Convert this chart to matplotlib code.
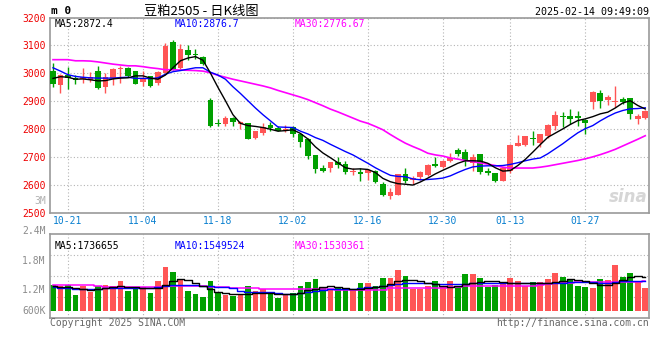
import numpy as np
import matplotlib.pyplot as plt

plt.rcParams['font.family'] = ['DejaVu Sans Mono']

# Свечи (80 торговых дней: 10-17 ... 02-14)
opens = [3007, 2958, 2995, 2983, 2979, 2976, 3007, 2951, 2983, 3014,
         3018, 3007, 2969, 2989, 2965, 3002, 3114, 3020, 3082, 3069,
         3060, 2905, 2824, 2820, 2840, 2818, 2821, 2769, 2787, 2815,
         2804, 2798, 2807, 2783, 2765, 2708, 2661, 2661, 2682, 2675,
         2646, 2648, 2643, 2652, 2605, 2561, 2565, 2639, 2617, 2629,
         2637, 2675, 2664, 2686, 2724, 2720, 2680, 2711, 2650, 2643,
         2615, 2649, 2740, 2744, 2769, 2750, 2774, 2813, 2849, 2846,
         2846, 2833, 2896, 2929, 2906, 2899, 2907, 2911, 2837, 2840]
highs = [3036, 2998, 3021, 2994, 3018, 3004, 3025, 3000, 3018, 3027,
         3021, 3010, 3007, 2992, 3010, 3110, 3118, 3104, 3100, 3086,
         3062, 2911, 2835, 2846, 2845, 2831, 2824, 2795, 2821, 2826,
         2813, 2814, 2813, 2787, 2768, 2708, 2673, 2682, 2700, 2686,
         2661, 2661, 2657, 2655, 2610, 2588, 2640, 2660, 2631, 2650,
         2676, 2700, 2690, 2715, 2732, 2729, 2710, 2713, 2661, 2645,
         2661, 2748, 2781, 2775, 2792, 2783, 2819, 2867, 2861, 2873,
         2864, 2836, 2938, 2942, 2924, 2954, 2914, 2913, 2855, 2869]
lows = [2950, 2930, 2944, 2962, 2966, 2970, 2943, 2930, 2958, 2966,
        2986, 2961, 2955, 2950, 2958, 3001, 3012, 3017, 3048, 3052,
        3031, 2807, 2810, 2813, 2811, 2802, 2764, 2765, 2781, 2795,
        2792, 2789, 2771, 2736, 2694, 2643, 2646, 2646, 2662, 2640,
        2637, 2614, 2619, 2607, 2560, 2551, 2563, 2608, 2605, 2617,
        2633, 2664, 2662, 2682, 2705, 2669, 2652, 2640, 2635, 2610,
        2613, 2644, 2739, 2739, 2745, 2736, 2769, 2798, 2807, 2817,
        2810, 2783, 2873, 2875, 2885, 2879, 2890, 2837, 2819, 2837]
closes = [2962, 2995, 2983, 2976, 2987, 2986, 2948, 2986, 3014, 3018,
          2989, 2962, 2983, 2954, 3005, 3097, 3014, 3089, 3064, 3066,
          3033, 2810, 2818, 2839, 2825, 2827, 2765, 2793, 2807, 2804,
          2795, 2801, 2783, 2754, 2704, 2658, 2652, 2682, 2673, 2646,
          2650, 2640, 2655, 2611, 2564, 2575, 2638, 2613, 2626, 2646,
          2673, 2668, 2687, 2698, 2713, 2688, 2702, 2646, 2643, 2614,
          2661, 2744, 2752, 2775, 2764, 2783, 2815, 2850, 2843, 2837,
          2840, 2821, 2933, 2900, 2914, 2901, 2899, 2855, 2846, 2867]

# Скользящие средние цены
ma5 = [2982, 2988, 2986, 2979, 2980, 2977, 2973, 2974, 2980, 2983,
       2984, 2991, 2991, 2983, 2979, 2994, 3020, 3045, 3055, 3060,
       3047, 3001, 2950, 2902, 2852, 2821, 2813, 2810, 2806, 2800,
       2793, 2795, 2798, 2785, 2765, 2737, 2715, 2698, 2680, 2662,
       2657, 2658, 2656, 2645, 2624, 2612, 2605, 2603, 2600, 2611,
       2625, 2640, 2653, 2665, 2678, 2687, 2687, 2686, 2678, 2662,
       2650, 2652, 2670, 2692, 2718, 2745, 2771, 2786, 2801, 2817,
       2831, 2837, 2845, 2855, 2861, 2876, 2894, 2902, 2885, 2872.4]
ma10 = [3020, 3008, 2995, 2989, 2986, 2984, 2983, 2983, 2983, 2985,
        2986, 2982, 2982, 2981, 2984, 2997, 3006, 3010, 3015, 3020,
        3020, 3004, 2994, 2979, 2952, 2928, 2902, 2876, 2852, 2830,
        2808, 2807, 2806, 2793, 2783, 2770, 2760, 2746, 2733, 2720,
        2708, 2693, 2678, 2662, 2648, 2635, 2631, 2630, 2622, 2619,
        2620, 2622, 2625, 2633, 2645, 2656, 2665, 2668, 2669, 2669,
        2670, 2674, 2680, 2687, 2693, 2697, 2712, 2730, 2748, 2768,
        2787, 2802, 2813, 2830, 2845, 2858, 2867, 2873, 2874, 2876.7]
ma30 = [3049, 3049, 3049, 3045, 3045, 3044, 3041, 3037, 3033, 3030,
        3027, 3027, 3024, 3020, 3017, 3013, 3013, 3012, 3011, 3010,
        3008, 3002, 2993, 2986, 2979, 2973, 2967, 2961, 2955, 2948,
        2939, 2931, 2923, 2915, 2906, 2895, 2884, 2872, 2862, 2851,
        2840, 2829, 2821, 2810, 2798, 2781, 2765, 2750, 2738, 2727,
        2714, 2708, 2704, 2697, 2693, 2688, 2684, 2679, 2675, 2670,
        2664, 2661, 2661, 2661, 2661, 2664, 2668, 2673, 2678, 2683,
        2688, 2694, 2701, 2709, 2718, 2728, 2740, 2752, 2764, 2776.67]

# Объём, тыс. лотов, и его средние
vol_k = [1321, 1269, 1321, 806, 1269, 960, 1286, 1321, 1269, 1526,
         1012, 1149, 1235, 909, 1526, 2247, 1989, 1578, 1012, 858,
         720, 1526, 978, 806, 755, 806, 1269, 1012, 1132, 892,
         669, 806, 892, 1269, 1475, 1629, 1149, 1098, 1201, 1098,
         1098, 1441, 1441, 1269, 1681, 1681, 2092, 1784, 1098, 1098,
         1269, 1526, 1235, 1526, 1201, 1887, 1887, 1681, 1235, 1303,
         1406, 1681, 1526, 1269, 1475, 1475, 1629, 1955, 1732, 1578,
         1269, 1218, 1166, 1629, 1578, 2350, 1732, 1938, 1475, 1166]
vol_ma5_k = [1252, 1235, 1200, 1166, 1132, 1063, 1132, 1183, 1235, 1269,
             1235, 1200, 1166, 1149, 1183, 1303, 1526, 1612, 1578, 1441,
             1269, 1132, 978, 892, 858, 858, 858, 892, 926, 926,
             875, 840, 840, 926, 1063, 1132, 1200, 1269, 1218, 1166,
             1115, 1115, 1166, 1218, 1269, 1389, 1526, 1595, 1578, 1526,
             1441, 1389, 1269, 1218, 1269, 1355, 1441, 1475, 1509, 1544,
             1492, 1441, 1406, 1406, 1406, 1406, 1423, 1475, 1544, 1612,
             1578, 1509, 1406, 1338, 1321, 1423, 1561, 1715, 1766, 1737]
vol_ma10_k = [1218, 1183, 1149, 1115, 1115, 1132, 1132, 1149, 1166, 1183,
              1183, 1166, 1149, 1166, 1200, 1269, 1321, 1338, 1338, 1303,
              1269, 1252, 1235, 1218, 1166, 1029, 978, 943, 943, 943,
              892, 875, 840, 892, 960, 1029, 1063, 1098, 1098, 1098,
              1115, 1183, 1218, 1235, 1286, 1321, 1372, 1406, 1406, 1406,
              1406, 1389, 1389, 1372, 1372, 1389, 1406, 1423, 1423, 1441,
              1441, 1441, 1441, 1441, 1423, 1406, 1406, 1406, 1441, 1475,
              1492, 1492, 1458, 1423, 1423, 1492, 1526, 1544, 1544, 1550]
vol_ma30_k = [1338, 1338, 1338, 1338, 1338, 1303, 1269, 1235, 1235, 1235,
              1235, 1235, 1235, 1235, 1235, 1252, 1269, 1269, 1269, 1269,
              1252, 1235, 1218, 1200, 1149, 1149, 1149, 1149, 1132, 1098,
              1098, 1098, 1098, 1098, 1098, 1098, 1098, 1098, 1063, 1080,
              1080, 1080, 1080, 1080, 1080, 1149, 1149, 1149, 1149, 1149,
              1149, 1166, 1183, 1200, 1235, 1252, 1252, 1252, 1252, 1269,
              1269, 1269, 1269, 1269, 1286, 1338, 1389, 1406, 1423, 1441,
              1458, 1475, 1492, 1458, 1458, 1475, 1475, 1475, 1475, 1530]

date_labels = ['10-21', '11-04', '11-18', '12-02', '12-16', '12-30', '01-13', '01-27']
date_idx = [2, 12, 22, 32, 42, 52, 61, 71]
price_ticks = [2500, 2600, 2700, 2800, 2900, 3000, 3100, 3200]
vol_labels = ['3M', '2.4M', '1.8M', '1.2M', '600K']

RED = '#ff5555'
GREEN = '#00a000'
GRID = '#b4b4b4'
BORDER = '#9a9a9a'

W, H = 660, 360


def box(l, t, r, b):
    # пиксели -> доли фигуры
    return [l / W, 1 - b / H, (r - l) / W, (b - t) / H]


o = np.array(opens, float)
c = np.array(closes, float)
x = np.arange(len(c))
colors = np.where(c >= o, RED, GREEN)

fig = plt.figure(figsize=(6.6, 3.6), dpi=100)
ax = fig.add_axes(box(50, 17.5, 649, 213))
axv = fig.add_axes(box(50, 234.3, 649, 317.7))

# ===== Свечной график =====
ax.set_axisbelow(True)
ax.vlines(x, lows, highs, colors=colors, lw=1, zorder=2)
ax.bar(x, np.maximum(np.abs(c - o), 3), bottom=np.minimum(o, c), width=0.76,
       color=colors, linewidth=0, zorder=3)
ax.plot(x, ma30, color='#ff00ff', lw=1.2, zorder=4)
ax.plot(x, ma10, color='#0000ff', lw=1, zorder=4)
ax.plot(x, ma5, color='black', lw=1, zorder=4)

ax.set_xlim(-0.4, 79.5)
ax.set_ylim(2500, 3200)
ax.set_xticks(date_idx, date_labels)
ax.set_yticks(price_ticks)
ax.tick_params(axis='x', length=0, pad=2.5, labelcolor='#0a80d0', labelsize=7)
ax.tick_params(axis='y', length=0, pad=3, labelcolor='#ee0000', labelsize=7)
ax.grid(True, color=GRID, linestyle=(0, (1, 2)), lw=0.8)
for s in ax.spines.values():
    s.set_color(BORDER)
    s.set_linewidth(1.2)

ax.text(0.008, 0.965, 'MA5:2872.4', transform=ax.transAxes, color='black', fontsize=7, va='center')
ax.text(0.208, 0.965, 'MA10:2876.7', transform=ax.transAxes, color='#0000ff', fontsize=7, va='center')
ax.text(0.408, 0.965, 'MA30:2776.67', transform=ax.transAxes, color='#ff00ff', fontsize=7, va='center')
ax.text(0.998, 0.035, 'sina', transform=ax.transAxes, color='#d6d6d6', fontsize=12,
        fontweight='bold', style='italic', ha='right', va='bottom', family='DejaVu Sans')

# ===== Объём =====
vol = np.array(vol_k) * 1000
axv.set_axisbelow(True)
axv.bar(x, vol, width=0.76, color=colors, linewidth=0, zorder=2)
axv.plot(x, np.array(vol_ma30_k) * 1000, drawstyle='steps-mid', color='#ff00ff', lw=1.1, zorder=3)
axv.plot(x, np.array(vol_ma10_k) * 1000, drawstyle='steps-mid', color='#0000ff', lw=1, zorder=3)
axv.plot(x, np.array(vol_ma5_k) * 1000, drawstyle='steps-mid', color='black', lw=1, zorder=3)

vlo, vhi = -0.36e6, 3.93e6
axv.set_xlim(-0.4, 79.5)
axv.set_ylim(vlo, vhi)
axv.set_xticks(date_idx)
axv.set_yticks(np.linspace(vlo, vhi, 5)[1:-1])
axv.tick_params(length=0, labelbottom=False, labelleft=False)
axv.grid(True, color=GRID, linestyle=(0, (1, 2)), lw=0.8)
for s in axv.spines.values():
    s.set_color(BORDER)
    s.set_linewidth(1.2)

for lab, fy in zip(vol_labels, [1.40, 1.04, 0.68, 0.33, 0.08]):
    axv.text(-0.007, fy, lab, transform=axv.transAxes, ha='right', va='center',
             fontsize=7, color='#b0b0b0' if lab == '3M' else '#8c8c8c')

axv.text(0.008, 0.86, 'MA5:1736655', transform=axv.transAxes, color='black', fontsize=7, va='center')
axv.text(0.208, 0.86, 'MA10:1549524', transform=axv.transAxes, color='#0000ff', fontsize=7, va='center')
axv.text(0.408, 0.86, 'MA30:1530361', transform=axv.transAxes, color='#ff00ff', fontsize=7, va='center')

# ===== Заголовок и подписи =====
fig.text(51 / W, 1 - 11 / H, 'm 0', fontsize=8, fontweight='bold', va='center')
fig.text(201 / W, 1 - 11 / H, '豆粕2505 - 日K线图', fontsize=9.5, ha='center', va='center',
         family=['Noto Sans CJK SC', 'DejaVu Sans'])
fig.text(649 / W, 1 - 12 / H, '2025-02-14 09:49:09', fontsize=7.2, ha='right', va='center')
fig.text(50 / W, 1 - 323.5 / H, 'Copyright 2025 SINA.COM', fontsize=7, color='#666666', va='center')
fig.text(649 / W, 1 - 323.5 / H, 'http://finance.sina.com.cn', fontsize=7, color='#666666',
         ha='right', va='center')

fig.savefig('out.png', dpi=100, facecolor='white')
